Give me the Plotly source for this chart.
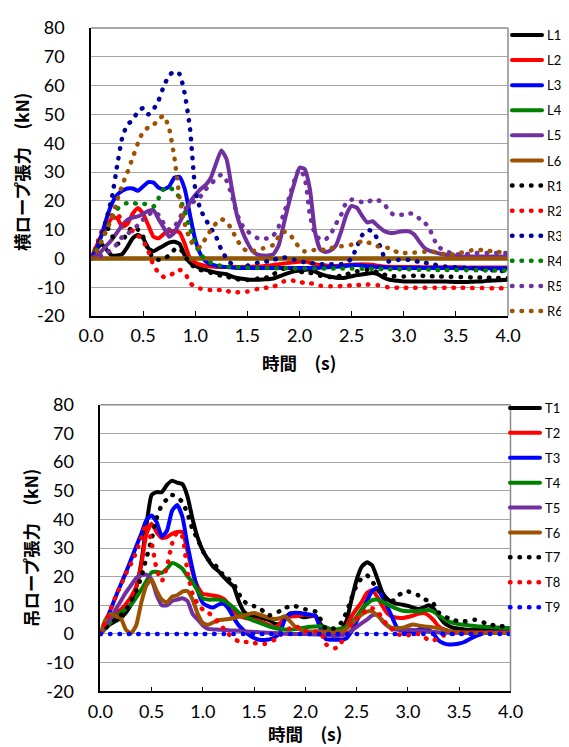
import plotly.graph_objects as go

# ---------------- data ----------------
TIME = [round(i * 0.05, 2) for i in range(81)]  # 0.0 .. 4.0 s

# top chart (横ロープ張力, kN)
L1 = [0, 3, 5, 3, 1, 1, 1.5, 4, 7, 8.2,
      7, 3.5, 2.5, 3.5, 4.5, 5.5, 5.8, 5, 1, -1.5,
      -2.5, -3.5, -4, -4.5, -5, -5.2, -5.5, -6.2, -6.8, -7.1,
      -7.3, -7.4, -7.4, -7.3, -7.2, -7, -6.3, -5.6, -5, -4.5,
      -4.2, -4, -3.9, -4.6, -5.4, -6, -6.4, -6.7, -6.8, -6.6,
      -6.2, -5.8, -5.6, -5.3, -5.1, -5.5, -6.5, -7.3, -7.6, -7.8,
      -8, -8, -8, -8, -8, -8, -8, -8, -8, -8.1,
      -8.2, -8.2, -8.2, -8.1, -8, -8, -7.8, -7.7, -7.6, -7.5,
      -7.4]
L2 = [0, 4, 8, 11, 14, 14, 11, 12, 15.5, 17.5,
      15.5, 11.5, 7.5, 7, 8.5, 9.4, 9.5, 9, 5, 0,
      -1.5, -2.2, -2.6, -2.8, -3, -3, -3, -3, -3, -3,
      -3, -2.9, -2.8, -2.7, -2.5, -2.3, -2, -1.8, -1.5, -1.3,
      -1.2, -1, -1.5, -2, -2.3, -2.5, -2.6, -2.6, -2.5, -2.3,
      -2.2, -2.1, -2, -2.1, -2.2, -2.5, -2.8, -2.9, -3, -3,
      -3, -3, -3, -3, -3.1, -3.1, -3.1, -3.1, -3.1, -3.1,
      -3.1, -3.1, -3.2, -3.2, -3.2, -3.2, -3.2, -3.2, -3.2, -3.2,
      -3.2]
L3 = [0, 3, 8, 14, 19, 22, 23.5, 24.3, 24.3, 23.5,
      25, 26.5, 26.3, 24.5, 24, 25, 28, 28.3, 24, 15,
      6.5, 1.5, -1, -2, -2.5, -2.8, -3, -3.2, -3.3, -3.3,
      -3.3, -3.3, -3.3, -3.3, -3.3, -3.3, -3.3, -3.3, -3.3, -3.3,
      -3.3, -3.3, -3.3, -3.3, -3.2, -3.1, -3, -2.9, -2.8, -2.6,
      -2.4, -2.3, -2.5, -2.7, -2.8, -3, -3.1, -3.2, -3.3, -3.3,
      -3.3, -3.3, -3.3, -3.3, -3.3, -3.3, -3.3, -3.3, -3.3, -3.3,
      -3.4, -3.4, -3.4, -3.4, -3.4, -3.4, -3.4, -3.4, -3.4, -3.4,
      -3.4]
L4 = [0] * 81
L5 = [0, 1, 2.5, 4.5, 6.5, 9, 11.5, 13.4, 14.2, 14.6,
      15.5, 16.5, 16.7, 13.5, 10.5, 7.5, 9, 12.5, 16, 19.5,
      22, 24, 25.5, 28, 33, 37.5, 34.5, 24.5, 15, 9.5,
      5.5, 2.5, 1.3, 1, 1, 1.5, 4.5, 12, 19.5, 26,
      31.5, 31, 24, 9, 3, 2.2, 2.8, 4.5, 9.4, 15.2,
      18.2, 17.6, 14.8, 12.5, 12.9, 11.3, 9.8, 9, 8.8, 9.2,
      9.4, 9.4, 8.3, 5.8, 3.6, 2.6, 2.1, 1.6, 1.3, 1.1,
      0.9, 0.7, 0.7, 0.7, 0.7, 0.7, 0.7, 0.7, 0.7, 0.7,
      0.7]
L6 = [0] * 81
R1 = [0, 4, 9, 11, 8, 5, 6, 9, 11, 10,
      7.5, 3, 0, -0.5, 0, 1, 3, 3.5, 1, -2,
      -3, -4, -4.5, -5, -5.5, -6, -6.3, -6.8, -7.2, -7.5,
      -7.5, -7.3, -7, -6.8, -6.5, -5.5, -4.5, -3.5, -3.5, -4,
      -4.5, -5, -5, -5.5, -6, -6.3, -6.5, -6.3, -6, -5.5,
      -5, -4.5, -4, -4, -4.2, -4.8, -5.5, -6, -6.2, -6.3,
      -6.3, -6.2, -6, -6, -6.1, -6.2, -6.2, -6.3, -6.3, -6.4,
      -6.5, -6.5, -6.5, -6.6, -6.6, -6.7, -6.7, -6.8, -6.8, -6.8,
      -6.8]
R2 = [0, 4, 9, 12.5, 15, 15.5, 13, 11, 9.5, 8,
      6, 2.5, -2.5, -5, -6.5, -6, -5, -4, -5, -8.5,
      -10, -10.5, -10.9, -11, -11, -11, -11.3, -11.7, -11.8, -11.7,
      -11.5, -11, -10.6, -10.3, -10.1, -9.8, -9, -8, -7.5, -7.8,
      -8.2, -8.5, -8.6, -9, -9.5, -9.7, -9.7, -9.7, -9.6, -9.5,
      -9.4, -9.3, -9.2, -9.1, -9.1, -9.3, -9.7, -10, -10.1, -10.2,
      -10.2, -10.2, -10.2, -10.2, -10.2, -10.2, -10.2, -10.2, -10.2, -10.2,
      -10.2, -10.2, -10.2, -10.3, -10.3, -10.3, -10.3, -10.4, -10.4, -10.4,
      -10.4]
R3 = [0, 3, 8, 14, 21, 32, 42, 46.5, 48, 51,
      52.2, 50, 51.8, 55, 60, 63.5, 65, 64, 57, 45,
      24, 17, 13.5, 10.5, 7.5, 3, 0, -2, -3.2, -3,
      -2.5, -2, -1.5, -1.2, -1, -0.5, 0, 0.3, 0.2, -0.5,
      -1, -1.3, -1.6, -1.8, -2, -2, -2, -2, -2, -1.5,
      0, 4, 8, 9.8, 9.5, 6.5, 1.5, -1, -1, -0.5,
      -0.3, -0.5, -0.9, -1.2, -1.5, -1.8, -2.2, -2.5, -2.8, -3,
      -3.1, -3.2, -3.3, -3.4, -3.5, -3.7, -3.9, -4.1, -4.3, -4.4,
      -4.5]
R4 = [0, 3, 6, 10, 14, 17, 18.8, 19.2, 19.2, 19,
      19, 18.6, 18, 21, 24.2, 24.6, 23.5, 21, 16.3, 10.5,
      5, 1.5, -0.5, -1.5, -2.2, -2.6, -2.9, -3, -3.1, -3.1,
      -3.2, -3.2, -3.3, -3.3, -3.3, -3.4, -3.4, -3.4, -3.5, -3.5,
      -3.5, -3.5, -3.5, -3.5, -3.5, -3.5, -3.5, -3.5, -3.5, -3.5,
      -3.5, -3.5, -3.6, -3.6, -3.6, -3.7, -3.7, -3.7, -3.8, -3.8,
      -3.8, -3.8, -3.9, -3.9, -3.9, -3.9, -4, -4, -4, -4,
      -4, -4, -4.1, -4.1, -4.1, -4.1, -4.2, -4.2, -4.2, -4.2,
      -4.2]
R5 = [0, 0.5, 1, 2, 3, 5, 7.5, 8.5, 10, 11.5,
      13.5, 15, 16.5, 15, 12, 10, 11, 14, 17, 19,
      20, 21.5, 24, 25.6, 28, 29, 27, 22, 15.5, 11.5,
      9.5, 8, 7, 6.8, 7, 8, 11, 15.5, 21, 27,
      31, 28, 15, 8.3, 6.6, 6.6, 8.5, 12, 15.2, 19.5,
      20.4, 20.4, 19.5, 19.5, 20.3, 20.2, 19.5, 17, 15.2, 15.2,
      15.2, 15.6, 15.5, 13.8, 12.5, 10, 6, 3.6, 2.5, 1.9,
      1.5, 1.3, 1.5, 1.7, 1.9, 1.9, 1.9, 1.9, 1.9, 1.9,
      1.9]
R6 = [0, 2, 6, 10, 14, 20, 25.5, 30, 35, 40,
      44, 45.5, 46.3, 48.5, 49.5, 45, 35, 21, 12, 6.5,
      4, 4, 7, 9.8, 12.2, 13.6, 12.8, 10, 6.5, 3.8,
      2.5, 2.5, 3, 3.5, 4, 4.7, 7.5, 9.2, 8.8, 6,
      3.8, 2.4, 2.6, 3, 3, 3, 3.5, 4, 4.2, 4.2,
      4.8, 5.5, 5.9, 5.6, 5, 4.2, 4, 3.6, 2.8, 2,
      1.9, 1.9, 2, 2.1, 2.3, 2.4, 2.2, 1.8, 1.4, 1.3,
      1.5, 2, 2.5, 2.8, 3, 2.9, 2.7, 2.5, 2.3, 2.1,
      1.9]

# bottom chart (吊ロープ張力, kN)
T1 = [0, 2, 3.5, 4.5, 5.6, 7.5, 10.2, 16, 25, 38,
      48.5, 49.5, 49.5, 52, 53.5, 52.8, 52.3, 48, 40, 33.5,
      29, 26, 23.5, 22, 20, 18.2, 16.5, 11.5, 7.8, 6.5,
      6.2, 5.8, 5.3, 4.8, 3.6, 3.5, 5.5, 7.2, 6.8, 6.2,
      5.8, 6.2, 6.3, 3.3, 1.8, 1.3, 0.9, 1.5, 4.5, 12,
      19, 23.5, 25, 24, 19.5, 14.5, 12.2, 11, 10.5, 10.2,
      9.8, 9.2, 8.7, 9.2, 10, 8.8, 6.3, 4, 2.8, 2.1,
      1.8, 1.6, 1.5, 1.5, 1.5, 1.5, 1.6, 1.7, 1.9, 2,
      2.1]
T2 = [0, 2.5, 4.5, 7, 8.5, 10.5, 13, 16.5, 24, 35,
      38.5, 35.5, 33.5, 33.8, 35, 35.6, 35.6, 29, 21.5, 16.5,
      14, 13.7, 13.4, 13.1, 12.3, 10.5, 8, 6.5, 5.7, 5.3,
      5, 4.5, 3.8, 3, 2.2, 3.5, 5.6, 6.1, 6.2, 6.5,
      6.8, 6.5, 6, 2, 0.3, -0.2, -0.3, 0, 2.7, 6.2,
      8.8, 11.2, 14.3, 15.3, 13, 9.8, 7.2, 6, 5.7, 5.6,
      5.9, 6.4, 7, 7.3, 6.5, 4.8, 2.6, 1.6, 1, 0.7,
      0.5, 0.4, 0.4, 0.4, 0.4, 0.4, 0.4, 0.5, 0.5, 0.8,
      0.9]
T3 = [0, 4, 8.5, 13, 17.3, 21.5, 26, 30.5, 35, 39.8,
      41.3, 39, 34, 36, 43, 45, 41, 31, 22.5, 15,
      10.8, 9.7, 9.2, 10.2, 10.6, 8.8, 5.7, 3, 1.2, -0.3,
      -1.4, -2, -2.1, -1.9, -1.2, 0.5, 5, 7, 7.4, 7.3,
      7, 6.7, 6.3, 1.5, -1.8, -2, -2, -2, -1.5, 1,
      4.5, 8, 11.5, 15, 16, 13, 9.5, 5.5, 1.8, 1,
      0.9, 0.9, 1.5, 2, 1.5, 0, -2.3, -3.3, -3.7, -3.6,
      -3.3, -2.8, -1.8, -0.9, -0.2, 0.4, 0.6, 0.7, 0.8, 0.9,
      0.9]
T4 = [0, 2, 4, 6, 7.5, 8.7, 10.3, 12.7, 15.5, 18.5,
      21.5, 21.7, 21.3, 22.8, 24.8, 24.1, 22.8, 20.1, 18.1, 15,
      12.4, 12, 12, 12, 11.6, 10.6, 9.2, 7.5, 6.2, 5.4,
      4.6, 4, 3.3, 2.6, 2.1, 1.8, 1.6, 1.5, 1.7, 2,
      2.3, 2.5, 2.6, 2.7, 2.3, 1.6, 1.6, 1.9, 2.4, 4,
      6, 8.7, 10.5, 11.8, 12, 11.3, 10.3, 9.4, 8.7, 8.1,
      7.9, 7.9, 7.9, 8.2, 8.4, 7.8, 6.5, 5.3, 4.3, 3.8,
      3.4, 3.2, 3, 2.8, 2.6, 2.5, 2.4, 2.3, 2.2, 2.1,
      2.1]
T5 = [0, 2.5, 5.5, 8.5, 11.5, 14.5, 17, 19.5, 20.5, 20.7,
      19, 13.5, 10, 10, 11.5, 12, 12.5, 11.5, 7, 5,
      3, 1.8, 1.6, 1.5, 1.4, 1.3, 1.2, 1.1, 0.9, 0.8,
      0.7, 0.6, 0.5, 0.4, 0.3, 0.2, 0.1, 0, 0, 0,
      0, -0.1, -0.2, -0.2, -0.3, -0.6, -0.8, -0.5, 0, 1.2,
      2.5, 3.8, 5, 6.5, 6.8, 4.5, 2.8, 1.8, 1.5, 1.5,
      1.5, 1.4, 1.2, 1, 0.9, 0.7, 0.5, 0.4, 0.4, 0.4,
      0.4, 0.4, 0.4, 0.4, 0.4, 0.4, 0.4, 0.4, 0.4, 0.4,
      0.4]
T6 = [0, 5, 7, 6.3, 5.5, 1.5, 0.3, 3, 11, 17,
      19, 15, 12, 11, 13, 13.5, 14.8, 15, 12, 7,
      3.8, 3.2, 4, 4.8, 5, 5.2, 5.6, 6, 6.5, 7,
      7.3, 6.8, 6.2, 5.6, 5.2, 5.5, 6.2, 4.5, 2.5, 1.5,
      1, 0.9, 0.9, 0.9, 0.9, 0.9, 0.9, 0.9, 1.8, 3.5,
      5.2, 6.8, 7.8, 7.9, 6.5, 4.8, 3, 2.1, 2, 2.2,
      2.8, 3.3, 3, 2.7, 2.5, 2.3, 2, 1.5, 1, 0.7,
      0.5, 0.4, 0.4, 0.4, 0.4, 0.4, 0.4, 0.4, 0.4, 0.4,
      0.4]
T7 = [0, 2, 3.5, 5, 6.5, 8.5, 11.5, 15, 20, 26.5,
      33, 40.5, 45, 47, 48.5, 47.8, 46, 42, 36.5, 33,
      29, 26, 24.8, 22.8, 20.5, 19.2, 17.5, 14, 11.5, 10,
      9.7, 9.2, 7.5, 6.5, 7, 8, 9.1, 9.6, 9.7, 9.2,
      8.6, 8.2, 7.8, 5, 1.8, 1.8, 2.1, 4, 7.5, 12.5,
      17, 19.5, 20.5, 18.5, 15.5, 14, 11.5, 11.5, 13.3, 14.4,
      14.8, 14.4, 13.5, 12.2, 11.6, 10.5, 7.5, 6.2, 5.4, 4.8,
      4.4, 4.4, 4.6, 5, 4.6, 3.8, 3.3, 2.9, 2.7, 2.7,
      2.7]
T8 = [0, 4, 8.5, 13, 17, 21, 24.5, 28.5, 33.5, 38.5,
      32, 22.5, 18.5, 23.5, 31.5, 35.5, 34, 21.5, 14, 10.5,
      8.5, 7.5, 6, 4, 2, 0, -1.5, -2.6, -2.7, -2.9,
      -3.1, -3.6, -3.5, -2.8, -2, -0.5, 0.9, 2, 2.7, 2,
      1, 0.9, 0.9, 0.5, -3.5, -4.9, -4.9, -3, 0, 3.5,
      5.5, 7, 8.5, 9, 8, 5.5, 3, 1.5, 0, -0.5,
      -0.5, 0.3, 0, -1, -2, -2.2, -1.5, -0.5, 0, 0.2,
      0.4, 0.4, 0.4, 0.4, 0.5, 0.5, 0.5, 0.5, 0.5, 0.5,
      0.5]
T9 = [0] * 81

X_TICKS = [0, 0.5, 1, 1.5, 2, 2.5, 3, 3.5, 4]
X_TICK_TEXT = ["0.0", "0.5", "1.0", "1.5", "2.0", "2.5", "3.0", "3.5", "4.0"]
Y_TICKS = [-20, -10, 0, 10, 20, 30, 40, 50, 60, 70, 80]
Y_TICK_TEXT = ["-20", "-10", "0", "10", "20", "30", "40", "50", "60", "70", "80"]

TOP_TITLE_Y = "横ロープ張力\u3000(kN)"
BOT_TITLE_Y = "吊ロープ張力\u3000(kN)"
TITLE_X = "時間\u3000(s)"

# ---------------- styles ----------------
BLACK = "#000000"
RED = "#FF0000"
BLUE = "#0000FF"
NAVY = "#00009C"
GREEN = "#008000"
PURPLE = "#7030A0"
BROWN = "#9C5200"

top_series = [
    ("L1", L1, BLACK, False), ("L2", L2, RED, False), ("L3", L3, BLUE, False),
    ("L4", L4, GREEN, False), ("L5", L5, PURPLE, False), ("L6", L6, BROWN, False),
    ("R1", R1, BLACK, True), ("R2", R2, RED, True), ("R3", R3, NAVY, True),
    ("R4", R4, GREEN, True), ("R5", R5, PURPLE, True), ("R6", R6, BROWN, True),
]
bot_series = [
    ("T1", T1, BLACK, False), ("T2", T2, RED, False), ("T3", T3, BLUE, False),
    ("T4", T4, GREEN, False), ("T5", T5, PURPLE, False), ("T6", T6, BROWN, False),
    ("T7", T7, BLACK, True), ("T8", T8, RED, True), ("T9", T9, BLUE, True),
]

# non-breaking padding widens each legend box so its label is not clipped
PAD_TOP = "\u00a0\u00a0"
PAD_BOT = "\u00a0\u00a0\u00a0"

fig = go.Figure()


def add(name, y, color, dotted, xa, ya, leg, pad):
    fig.add_trace(go.Scatter(
        x=TIME, y=y, name=name + pad, mode="lines",
        line=dict(color=color, width=4.5 if dotted else 4,
                  dash="0.5px,9px" if dotted else "solid",
                  shape="spline", smoothing=0.5),
        xaxis=xa, yaxis=ya, legend=leg, legendgroup=name,
        hoverinfo="skip",
    ))


for n, y, c, d in top_series:
    add(n, y, c, d, "x", "y", "legend", PAD_TOP)
for n, y, c, d in bot_series:
    add(n, y, c, d, "x2", "y2", "legend2", PAD_BOT)

W, H = 569, 747
NUM_FONT = dict(family="Lato, 'Noto Sans', sans-serif", size=18, color="#000000")
JP_FONT = dict(family="'Noto Sans CJK JP', sans-serif", size=17.5, color="#000000", weight="bold")
GRID = "#A6A6A6"

def xaxis_cfg(x0, x1, anchor):
    return dict(domain=[x0 / W, x1 / W], anchor=anchor, range=[0, 4],
                tickmode="array", tickvals=X_TICKS, ticktext=X_TICK_TEXT,
                ticks="inside", ticklen=5, tickwidth=1.2, tickcolor="#000000",
                showline=True, linecolor="#000000", linewidth=1.5,
                showgrid=False, zeroline=False, tickfont=NUM_FONT,
                ticklabelstandoff=3, automargin=False, fixedrange=True)

def yaxis_cfg(ytop, ybot, anchor):
    return dict(domain=[1 - ybot / H, 1 - ytop / H], anchor=anchor, range=[-20, 80],
                tickmode="array", tickvals=Y_TICKS, ticktext=Y_TICK_TEXT,
                ticks="", showline=True, linecolor="#000000", linewidth=1.5,
                showgrid=True, gridcolor=GRID, gridwidth=1, zeroline=False,
                tickfont=NUM_FONT, ticklabelstandoff=21, automargin=False,
                fixedrange=True)

LEG_FONT = dict(family="Lato, 'Noto Sans', sans-serif", size=13, color="#000000")

fig.update_layout(
    width=W, height=H,
    margin=dict(l=0, r=0, t=0, b=0),
    paper_bgcolor="white", plot_bgcolor="white",
    showlegend=True,
    xaxis=xaxis_cfg(83, 500, "y"),
    yaxis=yaxis_cfg(20, 308, "x"),
    xaxis2=xaxis_cfg(92.3, 502.5, "y2"),
    yaxis2=yaxis_cfg(396.7, 683.3, "x2"),
    legend=dict(x=499 / W, y=1 - 12 / H, xanchor="left", yanchor="top",
                font=LEG_FONT, tracegroupgap=5.2, bgcolor="rgba(0,0,0,0)",
                borderwidth=0, itemwidth=30),
    legend2=dict(x=497 / W, y=1 - 385 / H, xanchor="left", yanchor="top",
                 font=LEG_FONT, tracegroupgap=5, bgcolor="rgba(0,0,0,0)",
                 borderwidth=0, itemwidth=30),
    annotations=[
        dict(text=TOP_TITLE_Y, x=13 / W, y=1 - 164 / H, xref="paper", yref="paper",
             textangle=-90, showarrow=False, xanchor="center", yanchor="middle", font=JP_FONT),
        dict(text=BOT_TITLE_Y, x=22 / W, y=1 - 540 / H, xref="paper", yref="paper",
             textangle=-90, showarrow=False, xanchor="center", yanchor="middle", font=JP_FONT),
        dict(text=TITLE_X, x=291 / W, y=1 - 354 / H, xref="paper", yref="paper",
             showarrow=False, xanchor="center", yanchor="middle", font=JP_FONT),
        dict(text=TITLE_X, x=297 / W, y=1 - 725 / H, xref="paper", yref="paper",
             showarrow=False, xanchor="center", yanchor="middle", font=JP_FONT),
    ],
    shapes=[
        dict(type="line", xref="x domain", yref="y domain", x0=0, x1=1, y0=1, y1=1,
             line=dict(color="#8C8C8C", width=1.5)),
        dict(type="line", xref="x domain", yref="y domain", x0=1, x1=1, y0=0, y1=1,
             line=dict(color="#8C8C8C", width=1.5)),
        dict(type="line", xref="x2 domain", yref="y2 domain", x0=0, x1=1, y0=1, y1=1,
             line=dict(color="#8C8C8C", width=1.5)),
        dict(type="line", xref="x2 domain", yref="y2 domain", x0=1, x1=1, y0=0, y1=1,
             line=dict(color="#8C8C8C", width=1.5)),
    ],
)

ROUND_CAPS = """
var gd = document.getElementById('{plot_id}');
function rc(){ gd.querySelectorAll('path.js-line').forEach(function(p){
  p.style.strokeLinecap='round'; p.style.strokeLinejoin='round'; }); }
rc();
gd.on('plotly_afterplot', rc);
"""

fig.write_html("out.html", post_script=ROUND_CAPS)
